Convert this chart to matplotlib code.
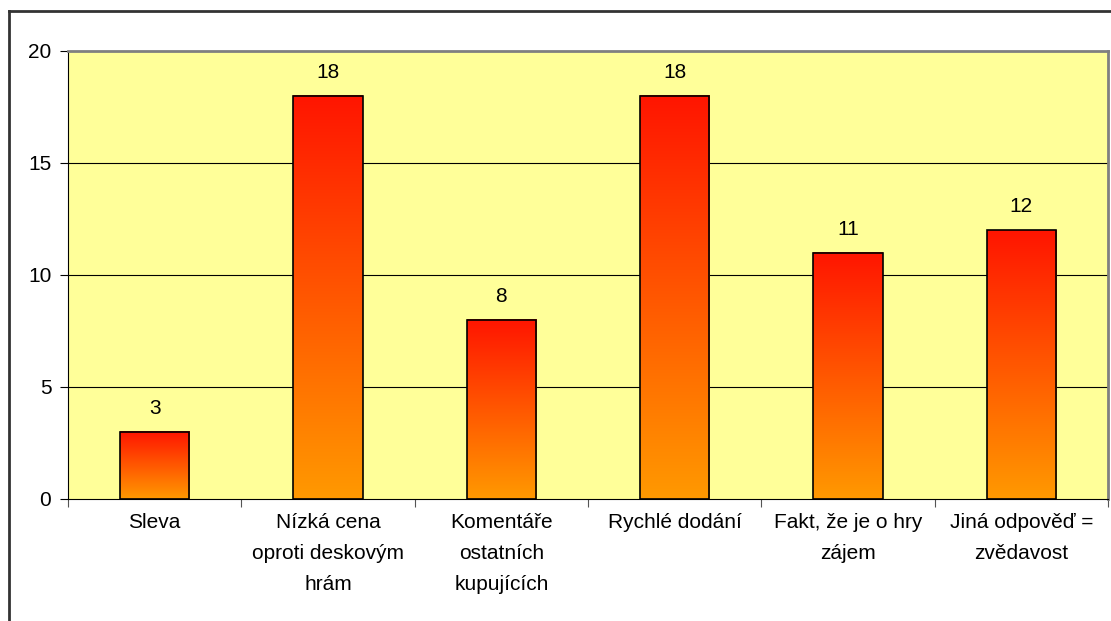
import numpy as np
import matplotlib.pyplot as plt
from matplotlib.colors import LinearSegmentedColormap
from matplotlib.lines import Line2D

CATEGORIES = [
    "Sleva",
    "Nízká cena\noproti deskovým\nhrám",
    "Komentáře\nostatních\nkupujících",
    "Rychlé dodání",
    "Fakt, že je o hry\nzájem",
    "Jiná odpověď =\nzvědavost",
]
VALUES = [3, 18, 8, 18, 11, 12]
Y_TICKS = [0, 5, 10, 15, 20]

BG_YELLOW = "#FFFF99"
GRADIENT = LinearSegmentedColormap.from_list("bar", ["#FF9900", "#FF1500"])
FONT_SIZE = 15

plt.rcParams["font.family"] = ["Liberation Sans", "DejaVu Sans"]

fig = plt.figure(figsize=(11.11, 6.21), dpi=100)
ax = fig.add_axes([68 / 1111, 1 - 499 / 621, (1108 - 68) / 1111, (499 - 51) / 621])
ax.set_facecolor(BG_YELLOW)

x = np.arange(len(CATEGORIES))
bar_width = 0.40

# horizontal gridlines
for t in Y_TICKS[1:-1]:
    ax.axhline(t, color="black", linewidth=0.8, zorder=1)

grad = np.linspace(0, 1, 256).reshape(-1, 1)
for xi, v in zip(x, VALUES):
    left, right = xi - bar_width / 2, xi + bar_width / 2
    ax.imshow(grad, cmap=GRADIENT, origin="lower", aspect="auto",
              extent=(left, right, 0, v), zorder=2, interpolation="bilinear")
    ax.bar(xi, v, width=bar_width, facecolor="none", edgecolor="black",
           linewidth=1.2, zorder=3)
    ax.text(xi, v + 1.05, str(v), ha="center", va="center",
            fontsize=FONT_SIZE, zorder=4)

ax.set_xlim(-0.5, len(CATEGORIES) - 0.5)
ax.set_ylim(0, 20)

ax.set_yticks(Y_TICKS)
ax.set_yticklabels([str(t) for t in Y_TICKS], fontsize=FONT_SIZE)
ax.tick_params(axis="y", length=6, width=0.8, pad=6)

# category separators on the x axis
ax.set_xticks(np.arange(-0.5, len(CATEGORIES) + 0.5, 1.0))
ax.set_xticklabels([])
ax.set_xticks(x, minor=True)
ax.set_xticklabels(CATEGORIES, minor=True, fontsize=FONT_SIZE, linespacing=1.8)
ax.tick_params(axis="x", which="major", length=6, width=0.8, color="#555555")
ax.tick_params(axis="x", which="minor", length=0, pad=10)

for side in ["top", "right"]:
    ax.spines[side].set_color("#808080")
    ax.spines[side].set_linewidth(2)
ax.spines["left"].set_color("black")
ax.spines["left"].set_linewidth(0.8)
ax.spines["bottom"].set_color("black")
ax.spines["bottom"].set_linewidth(0.8)

# outer chart frame
W, H = 1111, 621
fig.add_artist(Line2D([9 / W, 9 / W], [0, 1 - 11 / H], transform=fig.transFigure,
                      color="#333333", linewidth=2))
fig.add_artist(Line2D([9 / W, 1], [1 - 11 / H, 1 - 11 / H], transform=fig.transFigure,
                      color="#333333", linewidth=2))

fig.savefig("out.png", dpi=100)
